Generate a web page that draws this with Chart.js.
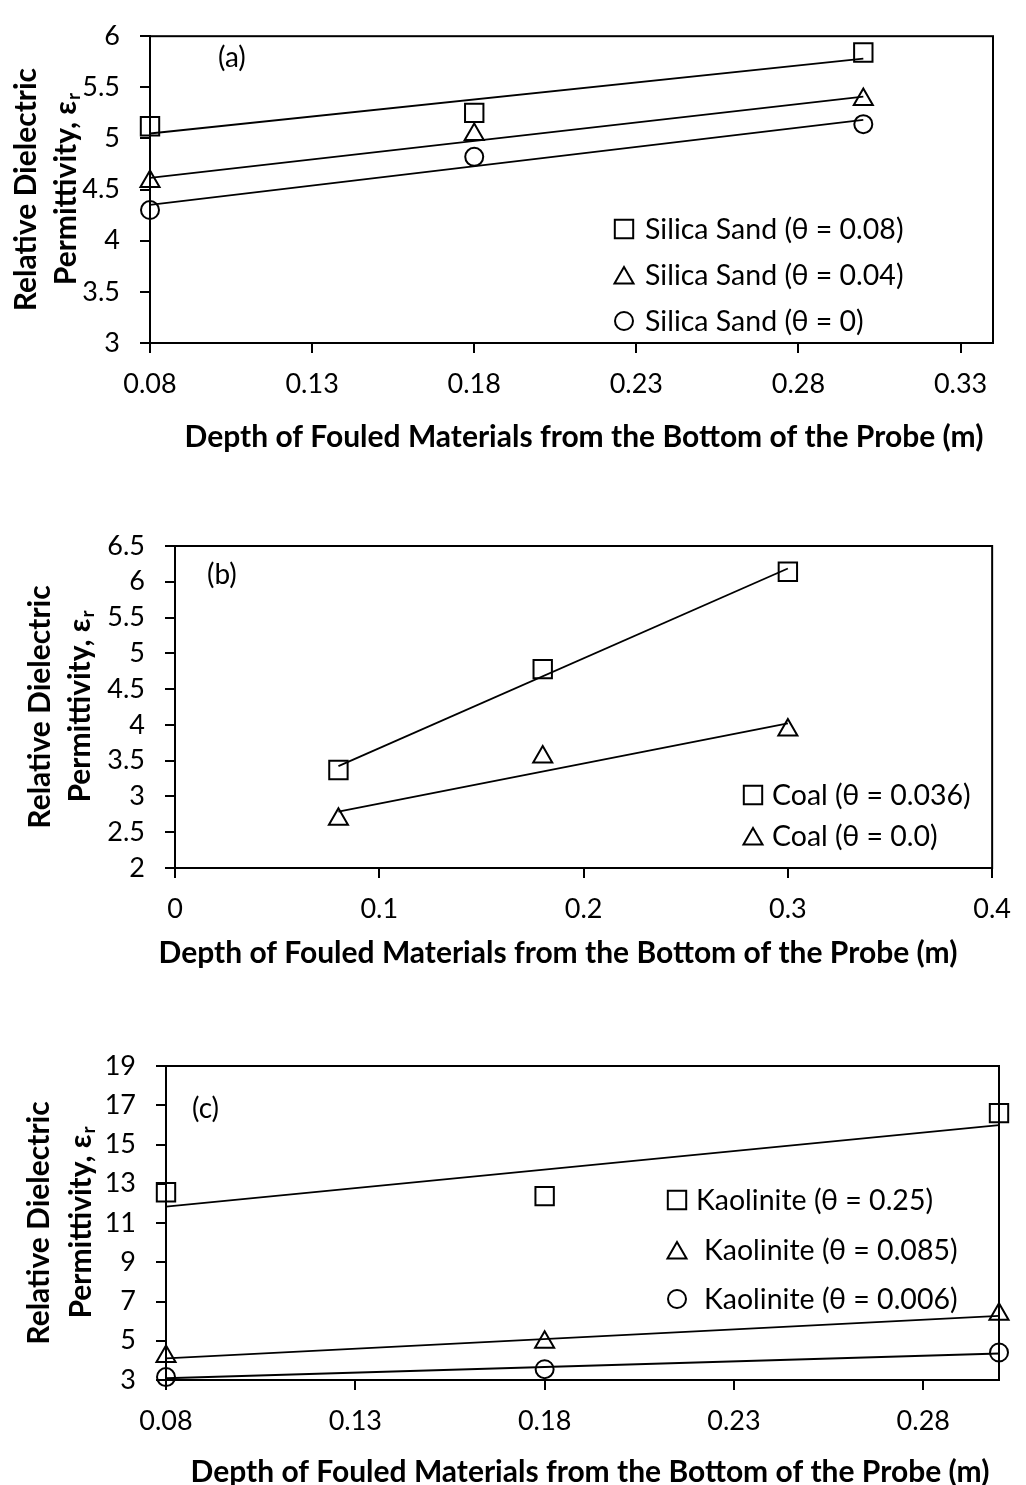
<!DOCTYPE html>
<html>
<head>
<meta charset="utf-8">
<script src="https://cdn.jsdelivr.net/npm/chart.js@4.4.1/dist/chart.umd.min.js"></script>
<style>
  html, body { margin: 0; padding: 0; background: #fff; }
  body { position: relative; width: 1026px; height: 1485px; overflow: hidden; }
  canvas { position: absolute; left: 0; }
</style>
</head>
<body>
<canvas id="chartA" width="1026" height="470" style="top:0"></canvas>
<canvas id="chartB" width="1026" height="480" style="top:500px"></canvas>
<canvas id="chartC" width="1026" height="465" style="top:1020px"></canvas>
<script>
// depth of fouled layer at each probe reading (m)
const depths = [0.08, 0.18, 0.30];

// (a) silica sand
const sandNames = ['Silica Sand (θ = 0.08)', 'Silica Sand (θ = 0.04)', 'Silica Sand (θ = 0)'];
const sandWet = [5.12, 5.25, 5.84];
const sandDamp = [4.58, 5.04, 5.38];
const sandDry = [4.30, 4.82, 5.14];
const sandXTicks = [0.08, 0.13, 0.18, 0.23, 0.28, 0.33];
const sandYTicks = [3, 3.5, 4, 4.5, 5, 5.5, 6];

// (b) coal
const coalNames = ['Coal (θ = 0.036)', 'Coal (θ = 0.0)'];
const coalWet = [3.37, 4.78, 6.14];
const coalDry = [2.68, 3.55, 3.93];
const coalXTicks = [0, 0.1, 0.2, 0.3, 0.4];
const coalYTicks = [2, 2.5, 3, 3.5, 4, 4.5, 5, 5.5, 6, 6.5];

// (c) kaolinite
const kaoNames = ['Kaolinite (θ = 0.25)', 'Kaolinite (θ = 0.085)', 'Kaolinite (θ = 0.006)'];
const kaoWet = [12.57, 12.37, 16.6];
const kaoDamp = [4.2, 4.92, 6.35];
const kaoDry = [3.15, 3.55, 4.4];
const kaoXTicks = [0.08, 0.13, 0.18, 0.23, 0.28];
const kaoYTicks = [3, 5, 7, 9, 11, 13, 15, 17, 19];

const xTitle = 'Depth of Fouled Materials from the Bottom of the Probe (m)';
const yTitle = ['Relative Dielectric', 'Permittivity, ε', 'r'];

const FONT = 'Lato, "Open Sans", sans-serif';
const TITLE_FONT = `bold 30px ${FONT}`;
const RADIUS = { rect: 13, triangle: 11, circle: 9 };

// least-squares straight line through the measured points (Excel-style linear trendline)
function fitLine(xs, ys) {
    const n = xs.length;
    const mx = xs.reduce((a, b) => a + b) / n;
    const my = ys.reduce((a, b) => a + b) / n;
    let sxy = 0, sxx = 0;
    xs.forEach((x, i) => { sxy += (x - mx) * (ys[i] - my); sxx += (x - mx) * (x - mx); });
    const k = sxy / sxx;
    const x0 = xs[0], x1 = xs[n - 1];
    return [{ x: x0, y: my + k * (x0 - mx) }, { x: x1, y: my + k * (x1 - mx) }];
}

function buildSets(names, series, shapes) {
    const sets = [];
    series.forEach((ys, i) => {
        sets.push({
            label: names[i],
            data: depths.map((x, j) => ({ x, y: ys[j] })),
            showLine: false,
            pointStyle: shapes[i],
            pointRadius: RADIUS[shapes[i]],
            pointBorderColor: '#000',
            pointBackgroundColor: 'rgba(0,0,0,0)',
            pointBorderWidth: 2,
            clip: false
        });
        sets.push({
            label: '',
            trend: true,
            data: fitLine(depths, ys),
            showLine: true,
            borderColor: '#000',
            borderWidth: 1.8,
            pointRadius: 0,
            clip: false
        });
    });
    return sets;
}

function axis(tickVals, min, max, size, isX) {
    return {
        type: 'linear',
        position: isX ? 'bottom' : 'left',
        min, max,
        afterBuildTicks: s => { s.ticks = tickVals.map(v => ({ value: v })); },
        afterFit: s => { if (isX) s.height = size; else s.width = size; },
        grid: { drawOnChartArea: false, drawTicks: true, tickLength: 10, color: '#000', lineWidth: 2 },
        border: { color: '#000', width: 2 },
        ticks: {
            color: '#000',
            font: { family: FONT, size: 27 },
            padding: isX ? 15 : 20,
            autoSkip: false,
            maxRotation: 0,
            callback: v => String(v)
        }
    };
}

function drawMarker(ctx, style, x, y, r) {
    ctx.beginPath();
    if (style === 'rect') {
        const h = r * Math.SQRT1_2;
        ctx.rect(x - h, y - h, 2 * h, 2 * h);
    } else if (style === 'triangle') {
        ctx.moveTo(x, y - r);
        ctx.lineTo(x + r * 0.866, y + r / 2);
        ctx.lineTo(x - r * 0.866, y + r / 2);
        ctx.closePath();
    } else {
        ctx.arc(x, y, r, 0, Math.PI * 2);
    }
    ctx.stroke();
}

// frame, panel tag, in-plot legend and axis titles
const decor = {
    id: 'decor',
    afterDraw(chart, args, o) {
        const { ctx, chartArea: a } = chart;
        ctx.save();
        ctx.strokeStyle = '#000';
        ctx.fillStyle = '#000';
        ctx.lineWidth = 2;
        ctx.strokeRect(a.left, a.top, a.right - a.left, a.bottom - a.top);

        ctx.font = `28px ${FONT}`;
        ctx.textAlign = 'left';
        ctx.textBaseline = 'middle';
        ctx.fillText(o.tag, o.tagX, o.tagY);

        // legend rows
        const marks = chart.data.datasets.filter(d => !d.trend);
        marks.forEach((d, i) => {
            const y = o.legendY[i];
            const tx = Array.isArray(o.legendTextX) ? o.legendTextX[i] : o.legendTextX;
            ctx.lineWidth = 2;
            const dy = d.pointStyle === 'triangle' ? 3 : 0;
            drawMarker(ctx, d.pointStyle, o.legendMarkX, y + dy, d.pointRadius);
            ctx.font = `28.5px ${FONT}`;
            ctx.fillText(d.label, tx, y + 1);
        });

        // x title
        ctx.font = TITLE_FONT;
        ctx.textAlign = 'center';
        ctx.fillText(xTitle, o.xTitleX, o.xTitleY);

        // y title, two rotated lines, second with subscript r
        const cy = (a.top + a.bottom) / 2;
        ctx.save();
        ctx.translate(o.yTitleX[0], cy);
        ctx.rotate(-Math.PI / 2);
        ctx.fillText(yTitle[0], 0, 0);
        ctx.restore();

        ctx.save();
        ctx.translate(o.yTitleX[1], cy);
        ctx.rotate(-Math.PI / 2);
        const mainW = ctx.measureText(yTitle[1]).width;
        ctx.font = `bold 19px ${FONT}`;
        const subW = ctx.measureText(yTitle[2]).width;
        const sx = -(mainW + subW) / 2;
        ctx.textAlign = 'left';
        ctx.fillText(yTitle[2], sx + mainW + 1, 8);
        ctx.font = TITLE_FONT;
        ctx.fillText(yTitle[1], sx, 0);
        ctx.restore();

        ctx.restore();
    }
};

function makeChart(id, sets, xAxis, yAxis, pad, deco) {
    return new Chart(document.getElementById(id), {
        type: 'scatter',
        data: { datasets: sets },
        options: {
            responsive: false,
            animation: false,
            events: [],
            layout: { autoPadding: false, padding: { top: pad.top, right: pad.right, left: 0, bottom: 0 } },
            scales: { x: xAxis, y: yAxis },
            plugins: { legend: { display: false }, tooltip: { enabled: false }, decor: deco }
        },
        plugins: [decor]
    });
}

makeChart('chartA',
    buildSets(sandNames, [sandWet, sandDamp, sandDry], ['rect', 'triangle', 'circle']),
    axis(sandXTicks, 0.08, 0.34, 127, true),
    axis(sandYTicks, 3, 6, 150, false),
    { top: 21, right: 33 },
    { tag: '(a)', tagX: 218, tagY: 58, legendMarkX: 624, legendTextX: 645, legendY: [229, 275, 321],
      xTitleX: 584, xTitleY: 437, yTitleX: [26, 66] });

makeChart('chartB',
    buildSets(coalNames, [coalWet, coalDry], ['rect', 'triangle']),
    axis(coalXTicks, 0, 0.4, 112, true),
    axis(coalYTicks, 2, 6.5, 175, false),
    { top: 46, right: 27 },
    { tag: '(b)', tagX: 207, tagY: 75, legendMarkX: 753, legendTextX: 772, legendY: [295, 336],
      xTitleX: 558, xTitleY: 453, yTitleX: [40, 80] });

makeChart('chartC',
    buildSets(kaoNames, [kaoWet, kaoDamp, kaoDry], ['rect', 'triangle', 'circle']),
    axis(kaoXTicks, 0.08, 0.30, 105, true),
    axis(kaoYTicks, 3, 19, 166, false),
    { top: 46, right: 27 },
    { tag: '(c)', tagX: 192, tagY: 89, legendMarkX: 677, legendTextX: [696, 704, 704], legendY: [180, 230, 279],
      xTitleX: 590, xTitleY: 452, yTitleX: [39, 81] });
</script>
</body>
</html>
